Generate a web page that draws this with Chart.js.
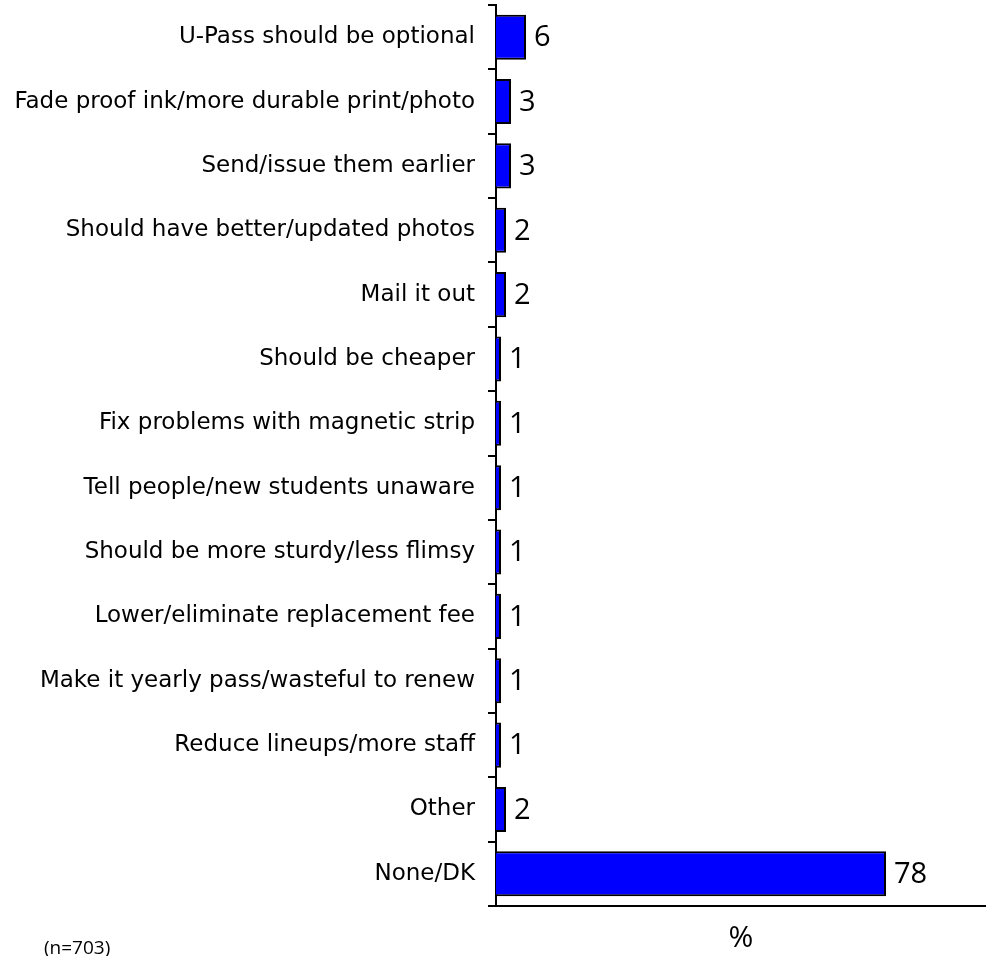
<!DOCTYPE html>
<html>
<head>
<meta charset="utf-8">
<script src="https://cdn.jsdelivr.net/npm/chart.js@4"></script>
<style>
  html, body { margin: 0; padding: 0; background: #fff; }
  #wrap { position: relative; width: 986px; height: 956px; }
  #note {
    position: absolute; left: 44px; top: 934px;
    font: 19px "Open Sans", sans-serif; color: #000;
  }
</style>
</head>
<body>
<div id="wrap">
  <canvas id="chart" width="986" height="956"></canvas>
  <div id="note">(n=703)</div>
</div>
<script>
// Suggestions for the U-Pass (%)
const categories = [
    'U-Pass should be optional',
    'Fade proof ink/more durable print/photo',
    'Send/issue them earlier',
    'Should have better/updated photos',
    'Mail it out',
    'Should be cheaper',
    'Fix problems with magnetic strip',
    'Tell people/new students unaware',
    'Should be more sturdy/less flimsy',
    'Lower/eliminate replacement fee',
    'Make it yearly pass/wasteful to renew',
    'Reduce lineups/more staff',
    'Other',
    'None/DK'
];
const percents = [6, 3, 3, 2, 2, 1, 1, 1, 1, 1, 1, 1, 2, 78];
const axisTitle = '%';

const labelFont = "'DejaVu Sans', sans-serif";
const numFont = "'Open Sans', sans-serif";

// writes the value just past the end of each bar
const valueLabels = {
    id: 'valueLabels',
    afterDatasetsDraw(chart) {
        const ctx = chart.ctx;
        const meta = chart.getDatasetMeta(0);
        ctx.save();
        ctx.fillStyle = '#000';
        ctx.font = '29px ' + numFont;
        ctx.textAlign = 'left';
        ctx.textBaseline = 'middle';
        meta.data.forEach((bar, i) => {
            ctx.fillText(String(percents[i]), bar.x + 8, bar.y + 1);
        });
        ctx.restore();
    }
};

new Chart(document.getElementById('chart'), {
    type: 'bar',
    data: {
        labels: categories,
        datasets: [{
            data: percents,
            backgroundColor: '#0000ff',
            borderColor: '#000',
            borderWidth: 2,
            categoryPercentage: 0.7,
            barPercentage: 1
        }]
    },
    options: {
        indexAxis: 'y',
        responsive: false,
        animation: false,
        layout: { padding: { top: 5, left: 0, right: 0, bottom: 0 } },
        plugins: {
            legend: { display: false },
            tooltip: { enabled: false }
        },
        scales: {
            x: {
                min: 0,
                max: 98,
                ticks: { display: false },
                grid: { display: false },
                border: { display: true, color: '#000', width: 2 },
                title: {
                    display: true,
                    text: axisTitle,
                    color: '#000',
                    font: { family: numFont, size: 30 },
                    padding: { top: 0, bottom: 0 }
                },
                afterFit(scale) {
                    scale.height = 50;
                    scale.paddingLeft = 0;
                    scale.paddingRight = 0;
                }
            },
            y: {
                grid: {
                    display: true,
                    drawOnChartArea: false,
                    drawTicks: true,
                    tickLength: 8,
                    color: '#000',
                    lineWidth: 2,
                    offset: true
                },
                border: { display: true, color: '#000', width: 2 },
                ticks: {
                    color: '#000',
                    padding: 13,
                    autoSkip: false,
                    font: { family: labelFont, size: 23 }
                },
                afterFit(scale) {
                    scale.width = 496;
                    scale.paddingTop = 0;
                    scale.paddingBottom = 0;
                }
            }
        }
    },
    plugins: [valueLabels]
});
</script>
</body>
</html>
